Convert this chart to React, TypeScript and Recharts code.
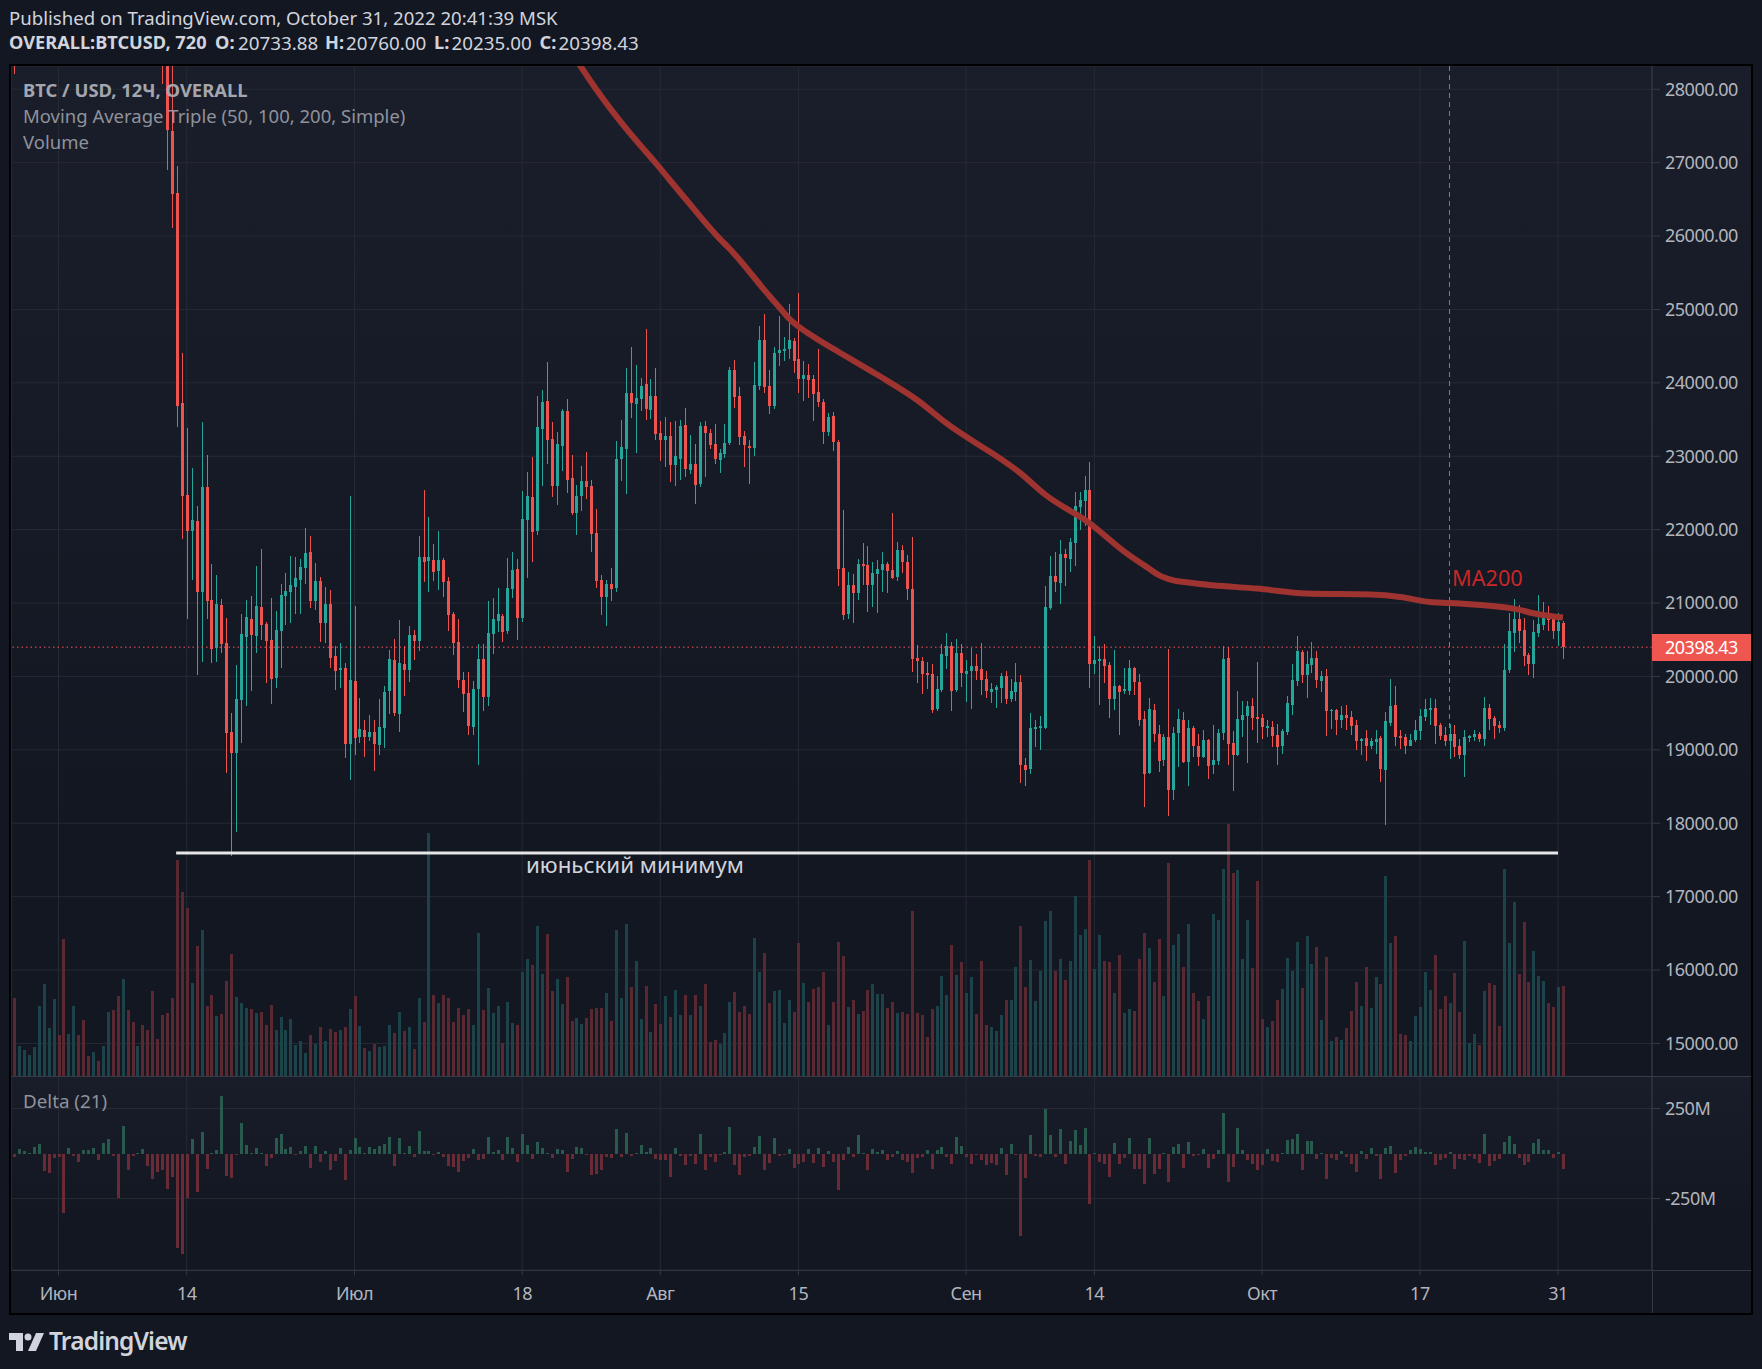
import { Bar, CartesianGrid, ComposedChart, Line, ReferenceLine, XAxis, YAxis } from 'recharts';

// bar numbers: 0 is 1 June, two bars a day, first bar is -9
const firstBar = -9;
const timeTicks = [0, 26, 60, 94, 122, 150, 184, 210, 244, 276, 304];
const timeLabels = ['Июн', '14', 'Июл', '18', 'Авг', '15', 'Сен', '14', 'Окт', '17', '31'];
const priceTicks = [15000, 16000, 17000, 18000, 19000, 20000, 21000, 22000, 23000, 24000, 25000, 26000, 27000, 28000];
const deltaTicks = [-250, 250];
const lastPrice = 20398.43;
const juneLow = 17594;

// bars -8..20 sit above the top of the pane, so they have no candle here
const opens = [29200,
  null, null, null, null, null, null, null, null, null, null, null, null, null, null, null, null, null, null, null, null, null, null, null, null, null, null, null, null, null,
  29600, 28900, 27432, 26586, 23723,
  22472, 21982, 22118, 21150, 22577,
  21041, 20386, 20973, 20455, 19241, 18955, 19677, 20536, 20782, 20550,
  20945, 20714, 20495, 19977, 20618, 21095, 21150, 21218, 21314, 21477,
  21695, 21027, 21300, 20727, 20986, 20277, 20086, 20114, 19077, 19936,
  19173, 19268, 19173, 19241, 19064, 19295, 19800, 20223, 19486, 20168,
  20086, 20564, 20482, 21627, 21573, 21586, 21436, 21586, 21300, 20850,
  20468, 19950, 19773, 19309, 19827, 20236, 19718, 20577, 20755, 20823,
  20618, 21191, 21464, 20795, 22132, 22445, 21982, 23372, 23749, 23238,
  22595, 23144, 23614, 22705, 22227, 22459, 22664, 22595, 21955, 21314,
  21082, 21259, 21205, 22969, 23103, 23857, 23709, 23776, 23978, 23628,
  23816, 23318, 23224, 23278, 22883, 22966, 23428, 22815, 22898, 22625,
  23414, 23321, 23170, 22951, 23034, 23185, 24178, 23823, 23278, 23141,
  23117, 23954, 24588, 23959, 23686, 24412, 24437, 24466, 24573, 24329,
  24057, 24110, 24057, 23877, 23740, 23331, 23550, 23195, 21480, 20852,
  21247, 21140, 21534, 21519, 21247, 21398, 21451, 21534, 21451, 21354,
  21724, 21558, 21193, 20253, 20209, 20049, 20034, 19557, 19815, 20278,
  20414, 19815, 20321, 20034, 20073, 20141, 20102, 19966, 19786, 19815,
  19844, 20005, 19693, 19786, 19922, 18792, 18739, 19284, 19299, 19299,
  20935, 21368, 21276, 21670, 21602, 21821, 22308, 22391, 22542, 20170,
  20209, 20239, 20156, 19693, 19869, 19800, 19800, 20117, 19922, 19420,
  18680, 19539, 19210, 18868, 19169, 18448, 19224, 19402, 18836, 19292,
  19059, 18909, 19128, 18799, 18854, 19224, 20251, 19087, 18936, 19402,
  19457, 19594, 19443, 19429, 19292, 19306, 19196, 19059, 19237, 19607,
  19936, 20333, 20018, 20155, 20251, 19936, 20005, 19525, 19539, 19402,
  19470, 19443, 19333, 19114, 19155, 19046, 19101, 19155, 18731, 19361,
  19607, 19183, 19169, 19059, 19128, 19251, 19443, 19539, 19566, 19333,
  19196, 19114, 19210, 19046, 18936, 19155, 19169, 19210, 19142, 19566,
  19429, 19333, 19292, 20087, 20594, 20785, 20635, 20292, 20169, 20594,
  20703, 20826, 20785, 20621, 20733.88];

const closes = [28900,
  null, null, null, null, null, null, null, null, null, null, null, null, null, null, null, null, null, null, null, null, null, null, null, null, null, null, null, null, null,
  28500, 27445, 26577, 23686, 22455,
  21982, 22132, 21150, 22577, 21027,
  20373, 20986, 20441, 19227, 18955, 19691, 20577, 20809, 20564, 20959,
  20700, 20482, 19964, 20632, 21109, 21164, 21245, 21341, 21491, 21682,
  21027, 21300, 20727, 20986, 20250, 20073, 20114, 19077, 19950, 19159,
  19282, 19173, 19241, 19077, 19309, 19786, 20236, 19500, 20182, 20086,
  20564, 20482, 21627, 21559, 21627, 21423, 21586, 21286, 20836, 20455,
  19950, 19759, 19323, 19827, 20236, 19718, 20591, 20782, 20850, 20605,
  21205, 21450, 20795, 22145, 22459, 21968, 23399, 23735, 23224, 22595,
  23170, 23614, 22677, 22227, 22459, 22664, 22582, 21941, 21300, 21082,
  21259, 21191, 22969, 23130, 23857, 23722, 23789, 23951, 23641, 23816,
  23305, 23224, 23278, 22883, 23005, 23414, 22820, 22898, 22615, 23414,
  23312, 23156, 22966, 23049, 23185, 24178, 23808, 23263, 23156, 23117,
  23974, 24578, 23945, 23686, 24412, 24451, 24466, 24588, 24300, 24057,
  24110, 24042, 23852, 23740, 23331, 23536, 23195, 21466, 20838, 21247,
  21140, 21534, 21505, 21247, 21412, 21466, 21534, 21437, 21344, 21724,
  21558, 21193, 20239, 20209, 20034, 20019, 19542, 19830, 20307, 20414,
  19800, 20321, 20049, 20073, 20141, 20073, 19951, 19800, 19830, 19854,
  20005, 19693, 19800, 19922, 18792, 18724, 19299, 19313, 19328, 20945,
  21368, 21286, 21670, 21617, 21831, 22323, 22406, 22542, 20170, 20224,
  20239, 20141, 19693, 19869, 19786, 19830, 20117, 19922, 19406, 18670,
  19557, 19210, 18854, 19169, 18448, 19224, 19416, 18836, 19292, 19046,
  18909, 19128, 18785, 18868, 19224, 20237, 19073, 18936, 19416, 19470,
  19594, 19429, 19416, 19306, 19320, 19183, 19032, 19251, 19635, 19950,
  20347, 20018, 20169, 20251, 19950, 20005, 19525, 19539, 19402, 19470,
  19429, 19320, 19114, 19142, 19046, 19114, 19142, 18744, 19388, 19594,
  19169, 19155, 19059, 19128, 19265, 19457, 19553, 19566, 19320, 19183,
  19114, 19210, 19032, 18936, 19169, 19183, 19210, 19142, 19566, 19416,
  19320, 19292, 20087, 20621, 20785, 20621, 20279, 20169, 20607, 20717,
  20826, 20772, 20621, 20744, 20398.43];

const highs = [29500,
  null, null, null, null, null, null, null, null, null, null, null, null, null, null, null, null, null, null, null, null, null, null, null, null, null, null, null, null, null,
  29800, 29100, 28500, 26954, 24405,
  23381, 22836, 22322, 23463, 23018,
  21532, 21382, 21054, 20795, 19500, 20155, 20850, 21041, 21095, 21504,
  21736, 20741, 21068, 20891, 21259, 21409, 21641, 21627, 21600, 22023,
  21913, 21545, 21354, 21218, 21177, 20414, 20455, 20182, 22459, 20959,
  19705, 19405, 19473, 19405, 19691, 19868, 20359, 20509, 20768, 20414,
  20686, 20632, 21913, 22541, 22173, 21805, 21982, 21614, 21354, 20877,
  20782, 20059, 20059, 19936, 20441, 20441, 21027, 21068, 21205, 20850,
  21614, 21695, 21600, 22527, 22786, 22991, 23816, 23897, 24287, 23466,
  23332, 23641, 23776, 23022, 22609, 22861, 23063, 22677, 22282, 21382,
  21314, 21477, 23211, 23493, 24206, 24489, 24247, 24072, 24731, 24058,
  24206, 23480, 23534, 23467, 23482, 23492, 23662, 23292, 23170, 23467,
  23482, 23370, 23438, 23097, 23443, 24217, 24315, 23945, 23346, 23224,
  24286, 24777, 24943, 24178, 24490, 24914, 24627, 25079, 24617, 25230,
  24300, 24261, 24110, 24466, 23784, 23594, 23609, 23224, 22269, 21422,
  21398, 21602, 21821, 21778, 21558, 21588, 21695, 21558, 22230, 21831,
  21792, 21656, 21899, 20429, 20263, 20195, 20170, 20005, 20443, 20589,
  20468, 20511, 20443, 20224, 20390, 20307, 20458, 20073, 19912, 19883,
  20049, 20073, 19966, 20185, 20019, 18890, 19503, 19406, 19459, 21232,
  21641, 21695, 21860, 21739, 21889, 22513, 22513, 22737, 22922, 20550,
  20414, 20443, 20195, 20360, 19883, 20117, 20224, 20127, 20034, 19528,
  19708, 19630, 19333, 19210, 20374, 19311, 19553, 19511, 19402, 19320,
  19219, 19274, 19151, 19333, 19288, 20415, 20397, 19251, 19799, 19662,
  19662, 19712, 20196, 19484, 19402, 19388, 19347, 19279, 19731, 20169,
  20552, 20361, 20347, 20470, 20347, 20073, 20100, 19553, 19553, 19594,
  19607, 19525, 19402, 19155, 19265, 19164, 19265, 19183, 19511, 19963,
  19868, 19265, 19210, 19219, 19402, 19562, 19690, 19712, 19690, 19361,
  19311, 19347, 19342, 19142, 19265, 19196, 19274, 19237, 19717, 19621,
  19457, 19388, 20443, 20868, 21059, 20977, 20799, 20315, 20772, 21114,
  21018, 20963, 20840, 20868, 20760];

const lows = [28208,
  null, null, null, null, null, null, null, null, null, null, null, null, null, null, null, null, null, null, null, null, null, null, null, null, null, null, null, null, null,
  28072, 26900, 26109, 23400, 21869,
  20782, 21314, 20018, 20195, 20782,
  20182, 20195, 20318, 18682, 17550, 17877, 19091, 19595, 19800, 20318,
  20495, 19909, 19623, 19841, 20114, 20700, 20727, 20850, 20850, 21259,
  20932, 20905, 20468, 20455, 20114, 19814, 19841, 18886, 18586, 18927,
  19091, 18900, 19118, 18709, 18927, 19023, 19486, 19459, 19241, 19732,
  19923, 20223, 20345, 21286, 21150, 21300, 21177, 21082, 20618, 20291,
  19841, 19514, 19200, 19200, 18791, 19527, 19595, 20305, 20605, 20468,
  20577, 21068, 20495, 20741, 21341, 21559, 21927, 22595, 22888, 22445,
  22336, 22800, 22500, 22200, 21927, 22255, 22418, 21695, 21205, 20836,
  20686, 21027, 21150, 22664, 22486, 23520, 23049, 23614, 23493, 23507,
  23224, 22942, 22848, 22649, 22601, 22683, 22717, 22752, 22352, 22586,
  22713, 23092, 22898, 22776, 22980, 23156, 23662, 23156, 22854, 22625,
  23005, 23906, 23857, 23579, 23648, 24232, 24300, 24329, 24135, 23867,
  23755, 23799, 23482, 23672, 23170, 23278, 23073, 21232, 20769, 20784,
  20731, 21042, 21247, 20877, 20945, 20867, 21149, 21140, 21330, 21300,
  21412, 21042, 20058, 19912, 19761, 19830, 19503, 19528, 19786, 20102,
  19528, 19786, 19854, 19649, 19557, 19951, 19747, 19708, 19640, 19571,
  19640, 19625, 19649, 19664, 18549, 18505, 18670, 19036, 18997, 19284,
  20906, 21149, 20989, 21232, 21422, 21505, 21997, 22050, 19844, 20034,
  19610, 19912, 19435, 19542, 19201, 19761, 19747, 19747, 19328, 18218,
  18670, 19105, 18694, 18776, 18101, 18320, 18763, 18817, 18511, 18900,
  18776, 18895, 18607, 18671, 18799, 19128, 18799, 18443, 18922, 19174,
  18827, 19265, 19087, 19142, 19174, 19037, 18799, 18945, 19196, 19470,
  19868, 19904, 19703, 20041, 19840, 19785, 19183, 19288, 19196, 19301,
  19265, 19196, 18991, 18936, 18845, 19005, 18945, 18557, 17982, 19320,
  19046, 19005, 18950, 19046, 19101, 19128, 19388, 19333, 19073, 19128,
  19046, 18881, 18909, 18881, 18635, 19101, 19114, 19101, 19046, 19265,
  19142, 19224, 19251, 20046, 20333, 20452, 20142, 20018, 19977, 20539,
  20635, 20621, 20511, 20415, 20235];

// direction of the volume bars whose candles are above the pane (bars -9..20)
const hiddenDirections = 'rggggggggrrggrrrgrggrrgrrgrrrr';

const volumes = [224, 87, 75, 61, 84, 201, 264, 138, 221,
  118, 392, 121, 201, 118, 161, 58, 69, 44, 87,
  184, 189, 229, 278, 189, 155, 87, 146, 132, 244,
  107, 175, 181, 224, 618, 526, 481, 266, 372, 418,
  201, 232, 172, 178, 272, 349, 226, 209, 195, 192,
  181, 184, 146, 204, 132, 169, 132, 164, 89, 101,
  67, 118, 92, 141, 101, 135, 127, 132, 141, 192,
  229, 144, 81, 72, 92, 84, 87, 146, 124, 184,
  129, 141, 78, 224, 155, 695, 232, 209, 232, 224,
  155, 195, 175, 192, 146, 409, 189, 252, 181, 201,
  95, 212, 152, 146, 298, 335, 318, 429, 292, 406,
  244, 278, 206, 284, 158, 166, 149, 166, 192, 195,
  195, 238, 158, 418, 224, 435, 255, 329, 164, 258,
  127, 206, 149, 229, 169, 246, 175, 232, 175, 232,
  201, 264, 98, 104, 92, 124, 212, 241, 184, 201,
  178, 395, 298, 352, 209, 244, 246, 152, 218, 184,
  381, 266, 212, 249, 255, 298, 146, 212, 384, 344,
  198, 218, 178, 186, 246, 264, 235, 235, 195, 212,
  181, 184, 178, 472, 181, 175, 112, 192, 201, 286,
  232, 375, 289, 326, 238, 284, 178, 329, 146, 141,
  129, 175, 218, 218, 312, 429, 255, 332, 215, 301,
  444, 472, 301, 335, 275, 329, 515, 404, 421, 618,
  306, 404, 329, 326, 238, 346, 181, 192, 186, 335,
  409, 366, 269, 392, 229, 609, 375, 406, 312, 435,
  238, 215, 164, 229, 464, 446, 592, 722, 581, 589,
  335, 446, 309, 558, 164, 141, 158, 218, 249, 338,
  301, 384, 252, 401, 321, 369, 161, 341, 101, 112,
  104, 138, 186, 269, 201, 312, 195, 284, 264, 572,
  381, 401, 121, 118, 101, 172, 198, 298, 246, 346,
  192, 229, 209, 295, 184, 386, 95, 121, 89, 244,
  266, 261, 144, 592, 381, 498, 292, 441, 269, 358,
  286, 272, 209, 198, 255, 258];

const deltas = [-19, 27, 14, 4, 35, 53, -97, -107, -23,
  -19, -331, 29, -16, -49, 21, 18, 29, -37, 56,
  80, -16, -249, 152, -93, -16, 4, 23, -70, -142,
  -103, -93, -198, -132, -525, -560, -249, 80, -214, 119,
  -88, 4, 18, 319, -126, -136, -4, 169, 47, 4,
  29, 2, -70, -25, 86, 107, 23, 35, -10, 14,
  41, -82, 41, -49, 14, -93, -43, 29, -148, 18,
  86, 35, 2, 35, 23, 41, 53, 91, -70, 86,
  4, 41, -19, 124, 14, 14, -10, 8, -19, -70,
  -76, -103, -43, -25, 23, -37, -31, 91, 8, 18,
  -37, 91, 29, -49, 107, 47, -31, 62, 29, 4,
  -25, 23, 18, -103, -31, 35, 29, -6, -121, -115,
  -93, -19, -23, 134, -19, 113, -16, 2, 47, 8,
  29, -31, -37, -37, -132, 29, -16, -64, -16, -58,
  107, -93, -19, -49, -4, 8, 146, -64, -121, -19,
  -16, 35, 95, -93, -54, 86, -12, -10, 23, -82,
  -58, -49, 23, -54, 29, -76, 14, -49, -204, -37,
  35, -19, 101, 2, -93, 23, 8, 18, -37, -19,
  14, -37, -49, -109, -25, -19, 18, -88, 18, 35,
  -19, -58, 91, 41, -19, -58, -10, -37, -64, -54,
  -64, 29, -121, 53, -10, -459, -136, 101, -16, -19,
  247, 101, -19, 134, -58, 68, 130, 47, 140, -282,
  2, -49, -58, -132, 56, -58, -25, 86, -88, -88,
  -171, 86, -115, -88, 2, -159, 35, 53, -82, 62,
  -16, -10, 23, -82, -31, 18, 224, -159, -76, 140,
  18, -37, -58, -93, -64, 23, -43, -49, 4, 74,
  80, 107, -93, 68, 68, -31, 2, -142, -25, -37,
  14, -19, -58, -103, 14, -31, 29, -16, -142, 29,
  41, -109, -37, -16, 18, 35, 23, 8, 8, -64,
  -37, -25, 8, -88, -31, -37, -16, -31, -54, 107,
  -70, -43, -31, 62, 95, 53, -25, -64, -49, 56,
  80, 18, 18, -25, 8, -88];

// MA200 read at these bars only, the line joins them
const maBars = [105, 109, 115, 121, 127, 134, 136, 144, 146, 148, 153, 158, 166, 174, 180, 195, 200, 209, 216, 221, 223, 226, 229, 234, 243, 253, 266, 272, 278, 282, 289, 295, 300, 305];
const maValues = [28400, 28000, 27469, 27000, 26515, 25966, 25831, 25194, 25040, 24884, 24631, 24427, 24110, 23770, 23450, 22770, 22479, 22089, 21705, 21473, 21384, 21310, 21279, 21242, 21197, 21129, 21115, 21083, 21014, 21001, 20969, 20924, 20847, 20802];

const UP = '#26a69a';
const DOWN = '#ef5350';
const GRID = '#262a35';
const AXIS_TEXT = { fill: '#b2b5be', fontSize: 18, letterSpacing: -0.5 };
const FONT = '"Noto Sans", sans-serif';

const rows = opens.map((open, idx) => {
  const i = idx + firstBar;
  const maAt = maBars.indexOf(i);
  const up = idx < hiddenDirections.length ? hiddenDirections[idx] === 'g' : closes[idx]! >= open!;
  return {
    i, open, close: closes[idx], high: highs[idx], low: lows[idx],
    volume: volumes[idx], delta: deltas[idx], up,
    ma: maAt >= 0 ? maValues[maAt] : null,
  };
});

const candle = (props: any) => {
  const { x, y, width, height, payload } = props;
  if (payload.open == null || !height) return <g />;
  const cx = Math.round(x + width / 2);
  const top = Math.min(y, y + height);
  const perPrice = Math.abs(height) / (payload.high - payload.low);
  const bodyTop = top + (payload.high - Math.max(payload.open, payload.close)) * perPrice;
  const bodyH = Math.max(1, Math.abs(payload.open - payload.close) * perPrice);
  const color = payload.close >= payload.open ? UP : DOWN;
  return (
    <g shapeRendering="crispEdges">
      <rect x={cx} y={top} width={1} height={Math.abs(height)} fill={color} />
      <rect x={cx - 1} y={bodyTop} width={3} height={bodyH} fill={color} />
    </g>
  );
};

const volumeBar = (props: any) => {
  const { x, y, width, height, payload } = props;
  return <rect x={Math.round(x + width / 2) - 1} y={y} width={3} height={height} fill={payload.up ? '#1c4349' : '#5a2831'} shapeRendering="crispEdges" />;
};

const deltaBar = (props: any) => {
  const { x, y, width, height, payload } = props;
  const top = Math.min(y, y + height);
  return <rect x={Math.round(x + width / 2) - 1} y={top} width={3} height={Math.max(1, Math.abs(height))} fill={payload.delta >= 0 ? '#295a4e' : '#692b36'} shapeRendering="crispEdges" />;
};

const xDomain: [number, number] = [-9.53, 323.05];

const abs = (left: number, top: number, extra: any = {}) => ({ position: 'absolute' as const, left, top, whiteSpace: 'nowrap' as const, ...extra });

const headerBold = { color: '#d1d4dc', fontSize: 18.2, fontWeight: 700 };
const headerValue = { color: '#d1d4dc', fontSize: 18.8 };

export default function App() {
  return (
    <div style={{ position: 'absolute', left: 0, top: 0, width: 1762, height: 1369, background: '#131722', fontFamily: FONT, overflow: 'hidden' }}>
      <div style={abs(9, 5, { color: '#d1d4dc', fontSize: 18.6 })}>Published on TradingView.com, October 31, 2022 20:41:39 MSK</div>
      <div style={abs(9, 30, headerBold)}>OVERALL:BTCUSD, 720</div>
      <div style={abs(215, 30, headerBold)}>O:</div>
      <div style={abs(238, 30, headerValue)}>20733.88</div>
      <div style={abs(325, 30, headerBold)}>H:</div>
      <div style={abs(346, 30, headerValue)}>20760.00</div>
      <div style={abs(434, 30, headerBold)}>L:</div>
      <div style={abs(451.5, 30, headerValue)}>20235.00</div>
      <div style={abs(539.5, 30, headerBold)}>C:</div>
      <div style={abs(558.5, 30, headerValue)}>20398.43</div>

      {/* pane backgrounds */}
      <div style={abs(11, 66, { width: 1740, height: 1010, background: 'linear-gradient(#1a1e2a, #131722 75%)' })} />
      <div style={abs(11, 1076, { width: 1740, height: 237, background: 'linear-gradient(#191d29, #131722 60%)' })} />

      <div style={abs(0, 0)}>
        <ComposedChart width={1762} height={1080} data={rows} barSize={3} barGap={-3} margin={{ top: 66, right: 10, bottom: 3.7, left: 11.5 }}>
          <XAxis dataKey="i" type="number" domain={xDomain} ticks={timeTicks} hide allowDataOverflow />
          <YAxis yAxisId="price" orientation="right" width={100} domain={[14552, 28317]} ticks={priceTicks} allowDataOverflow
            stroke="#363a45" tickSize={8} tickMargin={5} tick={AXIS_TEXT} tickFormatter={(v: number) => v.toFixed(2)} interval={0} />
          <YAxis yAxisId="volume" hide domain={[0, 2886]} allowDataOverflow />
          <CartesianGrid yAxisId="price" stroke={GRID} />
          <Bar yAxisId="volume" dataKey="volume" shape={volumeBar} isAnimationActive={false} />
          <Bar yAxisId="price" dataKey={(d: any) => (d.high == null ? null : [d.low, d.high])} shape={candle} isAnimationActive={false} />
          <ReferenceLine yAxisId="price" y={lastPrice} stroke="#f7525f" strokeDasharray="1.5 3" />
          <ReferenceLine yAxisId="price" segment={[{ x: 282, y: 28317 }, { x: 282, y: 19265 }]} stroke="#2196f3" strokeDasharray="5 4" />
          <Line yAxisId="price" type="monotone" dataKey="ma" stroke="#9f3330" strokeWidth={6} dot={false} connectNulls isAnimationActive={false} />
          <ReferenceLine yAxisId="price" segment={[{ x: 23.85, y: juneLow }, { x: 304, y: juneLow }]} stroke="#e6e6e6" strokeWidth={3} />
        </ComposedChart>
      </div>

      <div style={abs(0, 1076)}>
        <ComposedChart width={1762} height={240} data={rows} barSize={3} margin={{ top: 0.3, right: 10, bottom: 2.7, left: 11.5 }}>
          <XAxis dataKey="i" type="number" domain={xDomain} ticks={timeTicks} height={43} allowDataOverflow interval={0}
            stroke="#363a45" tickSize={5} tickMargin={12} tick={AXIS_TEXT} tickFormatter={(v: number) => timeLabels[timeTicks.indexOf(v)]} />
          <YAxis orientation="right" width={100} domain={[-649, 429]} ticks={deltaTicks} allowDataOverflow interval={0}
            stroke="#363a45" tickSize={8} tickMargin={5} tick={AXIS_TEXT} tickFormatter={(v: number) => `${v}M`} />
          <CartesianGrid stroke={GRID} />
          <Bar dataKey="delta" shape={deltaBar} isAnimationActive={false} />
        </ComposedChart>
      </div>

      {/* pane separators and the frame */}
      <div style={abs(11, 1076, { width: 1740, height: 1, background: '#363a45' })} />
      <div style={abs(1652, 1270, { width: 99, height: 1, background: '#363a45' })} />
      <div style={abs(1652, 1270, { width: 1, height: 43, background: '#363a45' })} />
      <div style={abs(9, 64, { width: 1740, height: 1247, border: '2px solid #000' })} />

      {/* legend */}
      <div style={abs(23, 77, { color: '#a3a6af', fontSize: 18.4, fontWeight: 700 })}>BTC / USD, 12Ч, OVERALL</div>
      <div style={abs(23, 103, { color: '#8f929c', fontSize: 18.5 })}>Moving Average Triple (50, 100, 200, Simple)</div>
      <div style={abs(23, 129, { color: '#8f929c', fontSize: 18.5 })}>Volume</div>
      <div style={abs(23, 1088, { color: '#8f929c', fontSize: 18.8 })}>Delta (21)</div>

      {/* annotations */}
      <div style={abs(1452, 563, { color: '#c62828', fontSize: 21.7 })}>MA200</div>
      <div style={abs(526, 849, { color: '#d1d4dc', fontSize: 22.3 })}>июньский минимум</div>

      {/* last price tag */}
      <div style={abs(1652, 634, { width: 99, height: 27, background: '#f05650', color: '#fff', fontSize: 18, letterSpacing: -0.5, lineHeight: '27px', paddingLeft: 13, boxSizing: 'border-box' })}>20398.43</div>

      {/* logo */}
      <svg style={abs(9, 1333)} width={36} height={18} viewBox="0 0 36 18">
        <path d="M0 0h14v18H7V7H0z" fill="#d1d4dc" />
        <circle cx="19" cy="4" r="3.5" fill="#d1d4dc" />
        <path d="M27 0h8l-8 18h-8z" fill="#d1d4dc" />
      </svg>
      <div style={abs(49, 1324, { color: '#d1d4dc', fontSize: 24.5, fontWeight: 600, letterSpacing: -0.85 })}>TradingView</div>
    </div>
  );
}
